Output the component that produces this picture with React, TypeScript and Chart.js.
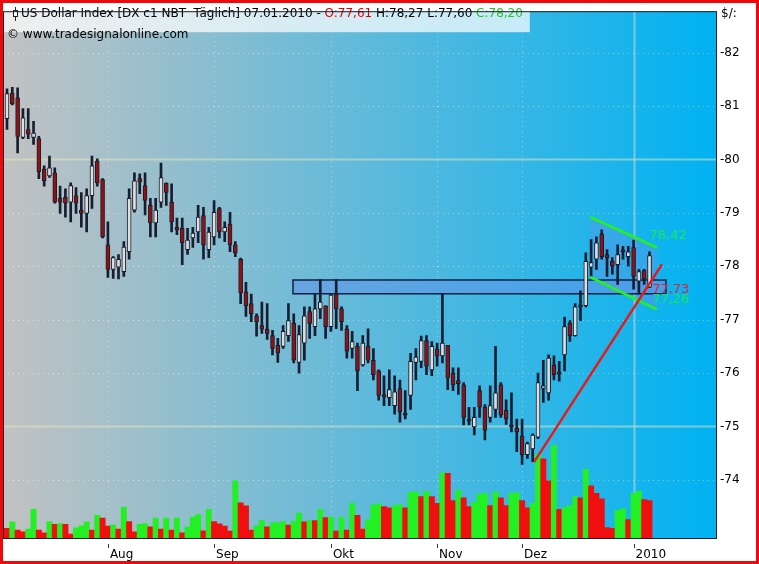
import React, { useEffect, useRef } from 'react';
import { Chart, registerables } from 'chart.js';

Chart.register(...registerables);

const FONT = '"DejaVu Sans", "Liberation Sans", sans-serif';

// Daily OHLC, US Dollar Index (DX c1), July 2009 - 07.01.2010
const openP = [80.76,81.24,81.15,80.41,80.56,80.41,80.39,79.82,79.69,79.75,79.27,79.29,79.2,79.32,79.05,78.99,79.32,79.97,79.62,78.40,77.94,77.98,77.90,78.27,79.05,79.64,79.51,79.14,78.81,79.2,79.55,79.2,78.73,78.71,78.31,78.53,78.64,78.95,78.31,78.55,79.08,78.64,78.79,78.4,78.13,77.52,77.3,77.07,76.89,76.82,76.7,76.52,76.5,76.7,76.93,76.2,76.56,77.15,76.87,77.2,77.26,76.87,77.48,77.2,76.83,76.46,76.5,76.15,76.5,76.24,76.04,75.58,75.54,75.39,75.71,75.23,75.58,76.2,76.22,76.61,76.06,76.45,76.32,76.52,76.0,75.86,75.78,75.14,74.99,75.67,75.36,75.17,75.32,75.78,75.3,75.03,74.97,74.82,74.47,74.58,74.8,75.71,75.63,76.15,76.0,76.34,76.93,76.7,77.26,77.26,77.98,78.13,78.6,78.22,78.09,78.03,78.29,78.18,78.35,77.72,77.92,77.61];
const highP = [81.32,81.35,81.34,80.95,80.95,80.71,80.43,79.88,80.06,79.84,79.5,79.45,79.56,79.47,79.38,79.45,80.06,80.01,79.64,78.83,78.18,78.22,78.46,79.45,79.75,79.73,79.75,79.27,79.27,79.93,79.56,79.54,78.9,78.9,78.71,78.73,79.14,79.1,78.73,79.23,79.1,78.83,79.01,78.46,78.15,77.7,77.48,77.11,77.33,77.3,76.8,76.65,76.89,77.3,77.11,76.89,77.24,77.24,77.48,77.75,77.26,77.48,77.75,77.24,76.89,76.78,76.56,76.7,76.83,76.46,76.06,75.95,76.06,75.95,75.87,75.67,76.37,76.46,76.69,76.7,76.59,76.56,77.48,76.52,76.1,76.1,75.82,75.36,75.36,75.76,75.41,75.76,76.5,75.82,75.5,75.63,75.14,75.14,74.71,74.86,76.0,76.24,76.34,76.32,76.22,77.05,76.98,77.3,77.54,78.25,78.5,78.55,78.68,78.31,78.16,78.4,78.37,78.37,78.49,77.94,77.94,78.27];
const lowP = [80.56,81.02,80.12,80.39,80.39,80.28,79.64,79.5,79.66,79.18,78.99,78.92,78.83,78.99,78.73,78.64,79.08,79.5,78.53,77.79,77.77,77.76,77.81,78.13,79.01,79.36,78.96,78.55,78.55,79.1,79.14,78.64,78.59,78.03,78.22,78.35,78.44,78.13,78.16,78.4,78.53,78.46,78.27,78.18,77.3,77.06,76.96,76.69,76.74,76.63,76.34,76.2,76.46,76.59,76.19,76.0,76.24,76.65,76.7,77.02,76.65,76.78,76.83,76.8,76.28,76.28,75.67,76.13,76.19,75.87,75.49,75.39,75.39,75.23,75.08,75.14,75.32,75.87,76.1,75.97,75.95,76.13,76.19,75.69,75.67,75.6,75.03,75.03,74.84,75.17,74.75,75.08,75.17,75.17,75.04,74.9,74.53,74.29,74.4,74.34,74.77,75.45,75.49,75.87,75.85,76.04,76.59,76.69,76.98,77.24,77.79,77.94,78.13,77.81,77.85,77.66,78.13,78.0,77.57,77.48,77.66,77.6];
const closeP = [81.23,81.04,80.43,80.78,80.47,80.49,79.77,79.6,79.84,79.2,79.2,79.18,79.51,79.18,78.99,79.32,79.88,79.56,78.55,77.94,78.16,78.13,78.36,79.27,79.60,79.58,79.23,78.81,79.05,79.66,79.38,78.83,78.68,78.44,78.49,78.62,78.92,78.4,78.64,79.01,78.64,78.73,78.4,78.25,77.5,77.26,77.11,76.96,76.82,76.74,76.46,76.37,76.78,76.98,76.24,76.72,77.07,76.93,77.2,77.33,76.87,77.46,77.2,76.96,76.41,76.59,76.04,76.56,76.24,75.97,75.58,75.56,75.69,75.65,75.27,75.21,76.22,76.3,76.61,76.13,76.5,76.32,76.56,75.91,75.78,75.8,75.17,75.1,75.17,75.36,74.93,75.39,75.63,75.21,75.14,74.99,74.9,74.47,74.68,74.84,75.82,75.76,76.28,75.97,75.98,76.87,76.7,77.24,77.24,78.09,78.07,78.44,78.18,78.16,78.0,78.22,78.27,78.27,77.81,77.9,77.76,78.2];
// Volume (thousand contracts)
const volumeK = [9.7,16.3,8,6.3,9,29,8,5.3,16.3,14,14.7,14,4,10.3,12.3,16.3,8,23,20.3,12,13,9,31.3,16.7,6.3,14,14.7,11.3,20.3,9,20.3,8,20.3,5.3,11.3,21.3,23.7,7.3,29,16.7,14.3,12,7,58,35.7,32.7,8,12,18,11.3,15.3,15.7,16.3,13,17,25.3,16.3,18,17.7,29,20.7,21.3,7,21.3,8,35.3,23,9,18.7,33.7,34.7,32,30.7,33,34,30.7,46.3,47,42,47.3,42,35.3,66.3,65.7,38,48.7,40.7,32,36.3,44.7,45.3,33,47,40.7,33,45.3,46,38,30.7,35.3,84.7,80.3,58,94,29,30.7,33,42,40.7,69.7,53,45.3,39.7,10.7,9.7,28,29.7,18.7,45.3,47.3,39,38];

const monthTickIdx = [19, 39, 61, 81, 97, 118];
const monthTickLabels = ['Aug', 'Sep', 'Okt', 'Nov', 'Dez', '2010'];
const yearLineIdx = 118;
const priceTicks = [74, 75, 76, 77, 78, 79, 80, 81, 82];
const majorPriceLines = [75, 80];

const X_MIN = -0.753;
const X_MAX = 133.52;
const Y_MIN = 72.912;
const Y_MAX = 82.774;
const VOL_MAX = 535;

// Drawing tools (in data coordinates: bar index, price)
const resistanceBox = { x0: 53.86, x1: 124.1, top: 77.742, bottom: 77.484 };
const channelUpper = [[109.8, 78.922], [122.4, 78.35]];
const channelLower = [[109.8, 77.797], [122.4, 77.189]];
const trendLine = [[99.25, 74.332], [123.35, 78.037]];
const toolLabels = [
  { text: '78,42', x: 121.0, y: 78.58, color: 'rgb(20,235,90)' },
  { text: '77,73', x: 121.5, y: 77.57, color: 'rgb(225,35,55)' },
  { text: '77,26', x: 121.5, y: 77.38, color: 'rgb(20,235,90)' },
];

const titleParts = [
  { text: 'US Dollar Index [DX c1 NBT  Täglich] 07.01.2010 - ', color: '#000' },
  { text: 'O:77,61', color: 'rgb(230,0,0)' },
  { text: ' H:78,27 L:77,60 ', color: '#000' },
  { text: 'C:78,20', color: 'rgb(40,195,40)' },
];
const subtitle = '© www.tradesignalonline.com';
const unitLabel = '$/:';

const UP_FILL = 'rgb(222,222,222)';
const DOWN_FILL = 'rgb(145,18,22)';
const OUTLINE = 'rgb(25,28,40)';
const WICK = 'rgb(22,30,48)';
const VOL_UP = 'rgb(35,240,35)';
const VOL_DOWN = 'rgb(240,15,15)';

const tsPlugin = {
  id: 'tradesignal',
  beforeDraw(chart: any) {
    const { ctx, chartArea: a, width, height } = chart;
    ctx.save();
    ctx.fillStyle = '#fff';
    ctx.fillRect(0, 0, width, height);
    const g = ctx.createLinearGradient(a.left, 0, a.right, 0);
    g.addColorStop(0, 'rgb(194,194,194)');
    g.addColorStop(1, 'rgb(0,178,242)');
    ctx.fillStyle = g;
    ctx.fillRect(a.left, a.top, a.right - a.left, a.bottom - a.top);
    ctx.restore();
  },
  beforeDatasetsDraw(chart: any) {
    const { ctx, chartArea: a, scales } = chart;
    const xs = scales.x, ys = scales.y;
    ctx.save();
    ctx.beginPath();
    ctx.rect(a.left, a.top, a.right - a.left, a.bottom - a.top);
    ctx.clip();
    priceTicks.forEach((v) => {
      const y = Math.round(ys.getPixelForValue(v)) + 0.5;
      ctx.beginPath();
      if (majorPriceLines.includes(v)) {
        ctx.setLineDash([]);
        ctx.strokeStyle = 'rgba(232,232,190,0.5)';
        ctx.lineWidth = 2;
      } else {
        ctx.setLineDash([1, 4]);
        ctx.strokeStyle = 'rgba(255,255,255,0.45)';
        ctx.lineWidth = 1;
      }
      ctx.moveTo(a.left, y);
      ctx.lineTo(a.right, y);
      ctx.stroke();
    });
    monthTickIdx.forEach((v) => {
      const x = Math.round(xs.getPixelForValue(v)) + 0.5;
      ctx.beginPath();
      if (v === yearLineIdx) {
        ctx.setLineDash([]);
        ctx.strokeStyle = 'rgba(215,225,215,0.5)';
        ctx.lineWidth = 2;
      } else {
        ctx.setLineDash([1, 4]);
        ctx.strokeStyle = 'rgba(255,255,255,0.45)';
        ctx.lineWidth = 1;
      }
      ctx.moveTo(x, a.top);
      ctx.lineTo(x, a.bottom);
      ctx.stroke();
    });
    ctx.setLineDash([]);
    // channel shading
    ctx.beginPath();
    ctx.moveTo(xs.getPixelForValue(channelUpper[0][0]), ys.getPixelForValue(channelUpper[0][1]));
    ctx.lineTo(xs.getPixelForValue(channelUpper[1][0]), ys.getPixelForValue(channelUpper[1][1]));
    ctx.lineTo(xs.getPixelForValue(channelLower[1][0]), ys.getPixelForValue(channelLower[1][1]));
    ctx.lineTo(xs.getPixelForValue(channelLower[0][0]), ys.getPixelForValue(channelLower[0][1]));
    ctx.closePath();
    ctx.fillStyle = 'rgba(95,150,230,0.4)';
    ctx.fill();
    // resistance box
    const bx0 = xs.getPixelForValue(resistanceBox.x0);
    const bx1 = xs.getPixelForValue(resistanceBox.x1);
    const by0 = ys.getPixelForValue(resistanceBox.top);
    const by1 = ys.getPixelForValue(resistanceBox.bottom);
    ctx.fillStyle = 'rgba(95,150,232,0.6)';
    ctx.fillRect(bx0, by0, bx1 - bx0, by1 - by0);
    ctx.strokeStyle = 'rgb(18,32,68)';
    ctx.lineWidth = 1.5;
    ctx.strokeRect(bx0, by0, bx1 - bx0, by1 - by0);
    ctx.restore();
  },
  afterDatasetsDraw(chart: any) {
    const { ctx, chartArea: a, scales } = chart;
    const xs = scales.x, ys = scales.y;
    const P = (p: number[]) => [xs.getPixelForValue(p[0]), ys.getPixelForValue(p[1])];
    ctx.save();
    ctx.beginPath();
    ctx.rect(a.left, a.top, a.right - a.left, a.bottom - a.top);
    ctx.clip();
    ctx.lineCap = 'butt';
    const seg = (pts: number[][], color: string, w: number) => {
      const p0 = P(pts[0]), p1 = P(pts[1]);
      ctx.beginPath();
      ctx.moveTo(p0[0], p0[1]);
      ctx.lineTo(p1[0], p1[1]);
      ctx.strokeStyle = color;
      ctx.lineWidth = w;
      ctx.stroke();
    };
    seg(channelUpper, 'rgb(40,238,40)', 2.8);
    seg(channelLower, 'rgb(40,238,40)', 2.8);
    seg(trendLine, 'rgb(232,25,25)', 2.4);
    ctx.font = `13px ${FONT}`;
    ctx.textBaseline = 'middle';
    ctx.textAlign = 'left';
    toolLabels.forEach((l) => {
      ctx.fillStyle = l.color;
      ctx.fillText(l.text, xs.getPixelForValue(l.x), ys.getPixelForValue(l.y));
    });
    ctx.restore();
  },
  afterDraw(chart: any) {
    const { ctx, chartArea: a, width, height, scales } = chart;
    const xs = scales.x;
    ctx.save();
    // title box
    ctx.font = `12px ${FONT}`;
    let tw = 0;
    titleParts.forEach((p) => (tw += ctx.measureText(p.text).width));
    ctx.fillStyle = 'rgba(255,255,255,0.72)';
    ctx.fillRect(a.left, a.top, 20 + tw + 8 - a.left, 21);
    // candle icon
    ctx.strokeStyle = '#222';
    ctx.lineWidth = 1;
    ctx.beginPath();
    ctx.moveTo(15.5, 7);
    ctx.lineTo(15.5, 21);
    ctx.stroke();
    ctx.fillStyle = '#fff';
    ctx.fillRect(13.5, 10.5, 4, 6);
    ctx.strokeRect(13.5, 10.5, 4, 6);
    ctx.textBaseline = 'middle';
    ctx.textAlign = 'left';
    let x = 21;
    titleParts.forEach((p) => {
      ctx.fillStyle = p.color;
      ctx.fillText(p.text, x, 14);
      x += ctx.measureText(p.text).width;
    });
    ctx.fillStyle = '#000';
    ctx.fillText(subtitle, 7, 35);
    ctx.fillText(unitLabel, a.right + 5, 14);
    // month tick marks
    ctx.strokeStyle = '#333';
    ctx.lineWidth = 1;
    monthTickIdx.forEach((v) => {
      const tx = Math.round(xs.getPixelForValue(v)) + 0.5;
      ctx.beginPath();
      ctx.moveTo(tx, a.bottom + 6);
      ctx.lineTo(tx, a.bottom + 10);
      ctx.stroke();
    });
    // plot frame
    ctx.strokeStyle = 'rgb(22,32,52)';
    ctx.lineWidth = 1;
    ctx.strokeRect(a.left + 0.5, a.top + 0.5, a.right - a.left, a.bottom - a.top);
    // outer red border
    ctx.strokeStyle = 'rgb(238,10,10)';
    ctx.lineWidth = 3;
    ctx.strokeRect(1.5, 1.5, width - 3, height - 3);
    ctx.restore();
  },
};

export default function App() {
  const ref = useRef<HTMLCanvasElement>(null);
  useEffect(() => {
    document.body.style.margin = '0';
    const idx = closeP.map((_, i) => i);
    const bodyColors = idx.map((i) => (closeP[i] >= openP[i] ? UP_FILL : DOWN_FILL));
    const volColors = volumeK.map((v, i) => (i > 0 && v > volumeK[i - 1] ? VOL_UP : VOL_DOWN));
    const chart = new Chart(ref.current as HTMLCanvasElement, {
      type: 'bar',
      data: {
        datasets: [
          {
            label: 'Volumen',
            data: idx.map((i) => ({ x: i, y: volumeK[i] })),
            yAxisID: 'yv',
            backgroundColor: volColors,
            barThickness: 5.3,
            grouped: false,
            order: 3,
          } as any,
          {
            label: 'Docht',
            data: idx.map((i) => ({ x: i, y: [lowP[i], highP[i]] })),
            yAxisID: 'y',
            backgroundColor: WICK,
            barThickness: 2,
            grouped: false,
            order: 2,
          } as any,
          {
            label: 'Kerze',
            data: idx.map((i) => ({ x: i, y: [openP[i], closeP[i]] })),
            yAxisID: 'y',
            backgroundColor: bodyColors,
            borderColor: OUTLINE,
            borderWidth: 1,
            borderSkipped: false,
            barThickness: 4,
            minBarLength: 2,
            grouped: false,
            order: 1,
          } as any,
        ],
      },
      options: {
        responsive: false,
        animation: false,
        layout: { padding: { left: 3, top: 3, right: 3, bottom: 3 } },
        plugins: { legend: { display: false }, tooltip: { enabled: false } },
        scales: {
          x: {
            type: 'linear',
            min: X_MIN,
            max: X_MAX,
            offset: false,
            grid: { display: false, drawOnChartArea: false, drawTicks: false },
            border: { display: false },
            afterBuildTicks: (s: any) => {
              s.ticks = monthTickIdx.map((v) => ({ value: v }));
            },
            afterFit: (s: any) => {
              s.height = 23;
            },
            ticks: {
              autoSkip: false,
              maxRotation: 0,
              minRotation: 0,
              align: 'start',
              labelOffset: 2,
              padding: 10,
              color: '#000',
              font: { family: FONT, size: 12 },
              callback: (v: any) => {
                const k = monthTickIdx.indexOf(Number(v));
                return k >= 0 ? monthTickLabels[k] : '';
              },
            },
          },
          y: {
            type: 'linear',
            position: 'right',
            min: Y_MIN,
            max: Y_MAX,
            grid: { drawOnChartArea: false, drawTicks: false },
            border: { display: false },
            afterBuildTicks: (s: any) => {
              s.ticks = priceTicks.map((v) => ({ value: v }));
            },
            afterFit: (s: any) => {
              s.width = 40;
            },
            ticks: {
              padding: 4,
              color: '#000',
              font: { family: FONT, size: 12 },
              callback: (v: any) => '-' + v,
            },
          },
          yv: { type: 'linear', position: 'left', display: false, min: 0, max: VOL_MAX },
        },
      } as any,
      plugins: [tsPlugin],
    });
    return () => chart.destroy();
  }, []);
  return <canvas ref={ref} width={759} height={564} style={{ display: 'block' }} />;
}
